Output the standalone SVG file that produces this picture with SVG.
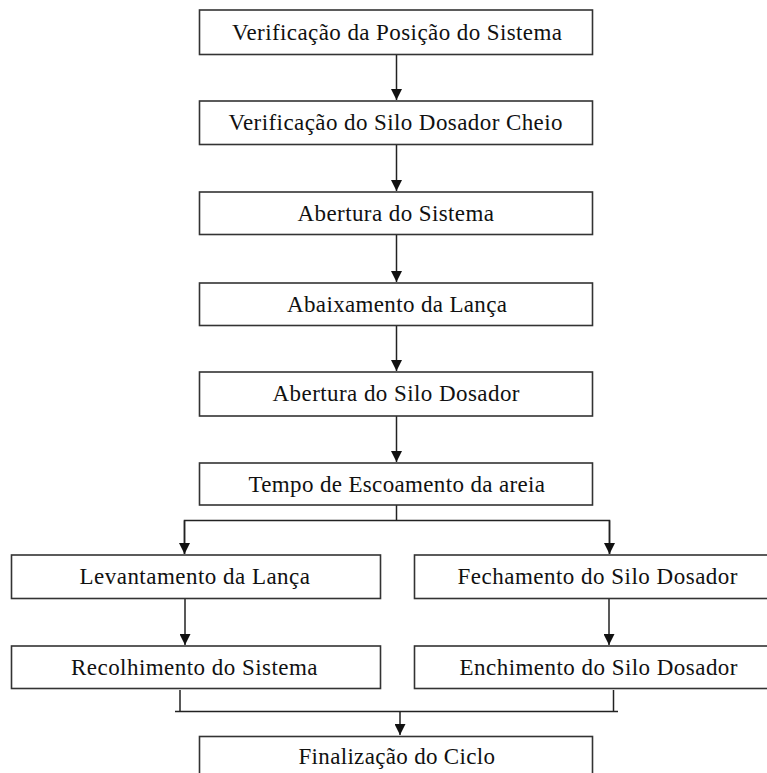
<svg xmlns="http://www.w3.org/2000/svg" width="767" height="773" viewBox="0 0 767 773">
<style>
.box{fill:#fff;stroke:#333;stroke-width:1.6}
.lbl{font-family:"Liberation Serif","Times New Roman",serif;font-size:23px;fill:#111}
.ln{fill:none;stroke:#222;stroke-width:1.5}
</style>
<defs>
<marker id="ah" viewBox="0 0 12 12" refX="12" refY="6" markerWidth="12" markerHeight="11" markerUnits="userSpaceOnUse" orient="auto">
<path d="M0,0 L12,6 L0,12 z" fill="#111"/>
</marker>
</defs>
<rect width="767" height="773" fill="#fff"/>
<g id="connectors">
<line class="ln" x1="396.5" y1="55" x2="396.5" y2="100" marker-end="url(#ah)"/>
<line class="ln" x1="396.5" y1="145" x2="396.5" y2="191" marker-end="url(#ah)"/>
<line class="ln" x1="396.5" y1="235" x2="396.5" y2="282" marker-end="url(#ah)"/>
<line class="ln" x1="396.5" y1="326" x2="396.5" y2="371" marker-end="url(#ah)"/>
<line class="ln" x1="396.5" y1="416" x2="396.5" y2="462" marker-end="url(#ah)"/>
<polyline class="ln" points="396.5,505 396.5,520.5"/>
<polyline class="ln" points="184.5,554 184.5,520.5 609.5,520.5 609.5,554"/>
<line class="ln" x1="184.5" y1="520.5" x2="184.5" y2="554" marker-end="url(#ah)"/>
<line class="ln" x1="609.5" y1="520.5" x2="609.5" y2="554" marker-end="url(#ah)"/>
<line class="ln" x1="185" y1="599" x2="185" y2="645" marker-end="url(#ah)"/>
<line class="ln" x1="609" y1="599" x2="609" y2="645" marker-end="url(#ah)"/>
<polyline class="ln" points="180,690 180,711.5"/>
<polyline class="ln" points="613.5,690 613.5,711.5"/>
<line class="ln" x1="175" y1="711.5" x2="618" y2="711.5"/>
<line class="ln" x1="400" y1="711.5" x2="400" y2="735" marker-end="url(#ah)"/>
</g>
<g id="n1"><rect class="box" x="199.5" y="10" width="393" height="44.5"/><text class="lbl" x="232" y="39.5" textLength="330" lengthAdjust="spacing">Verificação da Posição do Sistema</text></g>
<g id="n2"><rect class="box" x="199.5" y="101" width="393" height="43.5"/><text class="lbl" x="228.5" y="130" textLength="334" lengthAdjust="spacing">Verificação do Silo Dosador Cheio</text></g>
<g id="n3"><rect class="box" x="199.5" y="192" width="393" height="42.5"/><text class="lbl" x="297.5" y="221" textLength="196.5" lengthAdjust="spacing">Abertura do Sistema</text></g>
<g id="n4"><rect class="box" x="199.5" y="283" width="393" height="42.5"/><text class="lbl" x="287" y="312" textLength="220" lengthAdjust="spacing">Abaixamento da Lança</text></g>
<g id="n5"><rect class="box" x="199.5" y="372" width="393" height="44"/><text class="lbl" x="272.5" y="401" textLength="247" lengthAdjust="spacing">Abertura do Silo Dosador</text></g>
<g id="n6"><rect class="box" x="199.5" y="463" width="393" height="42"/><text class="lbl" x="248.5" y="491.5" textLength="296.5" lengthAdjust="spacing">Tempo de Escoamento da areia</text></g>
<g id="n7"><rect class="box" x="11.5" y="555" width="369" height="43.5"/><text class="lbl" x="79.5" y="584" textLength="230.5" lengthAdjust="spacing">Levantamento da Lança</text></g>
<g id="n8"><rect class="box" x="414.5" y="555" width="367" height="43.5"/><text class="lbl" x="457.5" y="584" textLength="280" lengthAdjust="spacing">Fechamento do Silo Dosador</text></g>
<g id="n9"><rect class="box" x="11.5" y="646" width="369" height="42.5"/><text class="lbl" x="71" y="675" textLength="246.5" lengthAdjust="spacing">Recolhimento do Sistema</text></g>
<g id="n10"><rect class="box" x="414.5" y="646" width="367" height="42.5"/><text class="lbl" x="459.5" y="675" textLength="278" lengthAdjust="spacing">Enchimento do Silo Dosador</text></g>
<g id="n11"><rect class="box" x="199.5" y="736.5" width="393" height="60"/><text class="lbl" x="298.5" y="763.5" textLength="196.5" lengthAdjust="spacing">Finalização do Ciclo</text></g>
</svg>
